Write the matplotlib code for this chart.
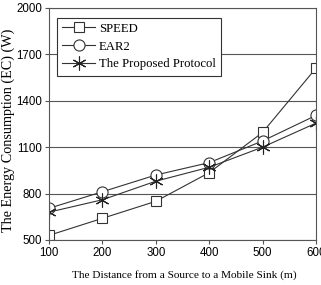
import matplotlib
matplotlib.use("Agg")
from matplotlib import pyplot as plt

# 데이터
distance = [100, 200, 300, 400, 500, 600]
speed = [530, 640, 750, 935, 1195, 1610]
ear2 = [705, 812, 920, 1000, 1140, 1305]
proposed = [680, 760, 880, 970, 1100, 1255]

serif = 'Liberation Serif'
sans = 'Liberation Sans'

fig = plt.figure(figsize=(3.21, 2.85), dpi=100)
ax = fig.add_axes([0.153, 0.158, 0.831, 0.814])

ax.plot(distance, speed, color='#333333', lw=0.8, marker='s', ms=7, mfc='white', mec='#333333', mew=0.8, label='SPEED')
ax.plot(distance, ear2, color='#333333', lw=0.8, marker='o', ms=8, mfc='white', mec='#333333', mew=0.8, label='EAR2')
ax.plot(distance, proposed, color='#333333', lw=0.8, marker=(6, 2, 0), ms=10, mec='#222222', mew=0.8, label='The Proposed Protocol')

ax.set_xlim(100, 600)
ax.set_ylim(500, 2000)
ax.set_xticks(distance)
ax.set_yticks([500, 800, 1100, 1400, 1700, 2000])
ax.yaxis.grid(True, color='#555555', lw=0.8)
ax.set_axisbelow(True)
ax.tick_params(labelsize=8.3, length=3, width=0.8, color='#555555', pad=2)
for lab in ax.get_xticklabels() + ax.get_yticklabels():
    lab.set_family(sans)
for s in ax.spines.values():
    s.set_color('#555555')
    s.set_linewidth(0.8)

# 축 제목
fig.text(184 / 321, 1 - 275 / 285, 'The Distance from a Source to a Mobile Sink (m)',
         family=serif, fontsize=8.1, ha='center', va='center')
fig.text(8.5 / 321, 1 - 130 / 285, 'The Energy Consumption (EC) (W)',
         family=serif, fontsize=10.2, ha='center', va='center', rotation=90)

leg = ax.legend(loc='upper left', prop={'family': serif, 'size': 9.2}, fancybox=False,
                edgecolor='#333333', framealpha=1, borderpad=0.4, labelspacing=0.45,
                handlelength=2.6, handletextpad=0.3, bbox_to_anchor=(0.005, 0.985))
leg.get_frame().set_linewidth(0.8)

fig.savefig('out.png', dpi=100)
